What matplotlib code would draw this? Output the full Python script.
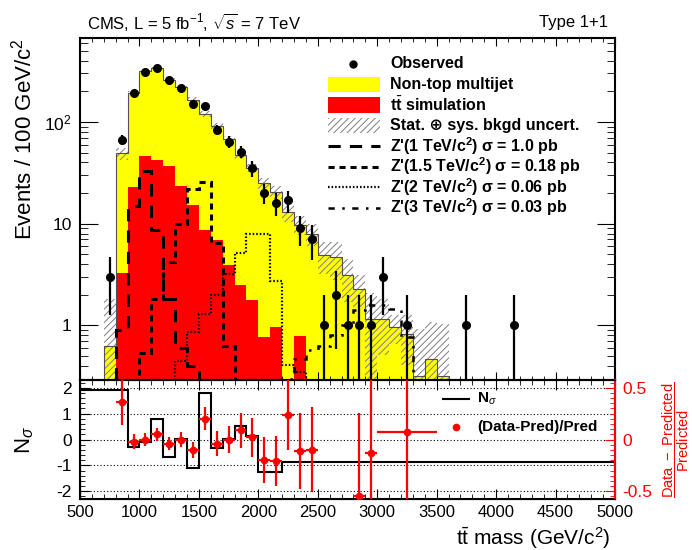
import numpy as np
import matplotlib
matplotlib.use('Agg')
import matplotlib.pyplot as plt
from matplotlib.patches import Rectangle
from matplotlib.ticker import MultipleLocator, FixedLocator, LogLocator, NullFormatter

plt.rcParams['font.family'] = ['Liberation Sans', 'DejaVu Sans']
plt.rcParams['mathtext.fontset'] = 'custom'
plt.rcParams['mathtext.rm'] = 'Liberation Sans'
plt.rcParams['mathtext.it'] = 'Liberation Sans:italic'
plt.rcParams['mathtext.bf'] = 'Liberation Sans:bold'
plt.rcParams['axes.unicode_minus'] = False
plt.rcParams['hatch.linewidth'] = 0.7

# 100 GeV bins from 700 to 3600 GeV
edges = np.arange(700, 3700, 100)

# total background (non-top multijet + ttbar)
total = [0.62, 49, 195, 318, 336, 261, 221, 166, 119, 91, 68, 47, 35.5, 25, 20.5,
         13, 9.8, 8, 4.9, 4.7, 3.1, 2.3, 1.16, 1.16, 0.96, 0.83, 0.32, 0.47, 0.32]
ttbar = [0, 3.3, 23, 46, 42.7, 36.7, 23.5, 15.4, 8.7, 6.95, 3.9, 2.47, 1.79, 0.77, 0.96,
         0.2, 0.78, 0, 0, 0, 0, 0, 0, 0, 0, 0, 0, 0, 0]
bkg_unc = [1.2, 7, 8, 10, 12, 10, 10, 9, 8, 6, 5, 4, 3.5, 3, 3,
           2.5, 2, 2, 1.7, 1.9, 1.4, 0.8, 0.9, 0.65, 0.3, 0.42, 0.6, 0.6, 0.7]

# Z' signal templates
zp1000 = [0, 0.89, 14.8, 33, 8.7, 1.8, 0.6, 0.4, 0.2, 0, 0, 0, 0, 0, 0,
          0, 0, 0, 0, 0, 0, 0, 0, 0, 0, 0, 0, 0, 0]
zp1500 = [0, 0, 0, 0.54, 1.8, 4.2, 10, 22, 25.7, 6.4, 0.63, 0.25, 0, 0, 0,
          0, 0, 0, 0, 0, 0, 0, 0, 0, 0, 0, 0, 0, 0]
zp2000 = [0, 0, 0, 0, 0, 0, 0.45, 0.86, 1.3, 1.97, 3.2, 5.1, 8, 8, 2.7,
          0.41, 0.35, 0.25, 0, 0, 0, 0, 0, 0, 0, 0, 0, 0, 0]
zp3000 = [0, 0, 0, 0, 0, 0, 0, 0, 0, 0, 0, 0, 0, 0, 0,
          0.3, 0.47, 0.57, 0.62, 0.8, 1.0, 1.4, 1.6, 1.6, 1.46, 0.77, 0.2, 0, 0]

# observed events
obs_mass = [750, 850, 950, 1050, 1150, 1250, 1350, 1450, 1550, 1650, 1750, 1850, 1950,
            2050, 2150, 2250, 2350, 2450, 2550, 2650, 2750, 2850, 2950, 3050, 3250, 3750, 4150]
obs_count = [3, 67, 193, 310, 336, 261, 218, 152, 143, 84, 64, 51, 35,
             20, 16, 17, 9, 7, 1, 2, 1, 1, 1, 3, 1, 1, 1]

# lower panel: N sigma
nsig_edges = [500, 900, 1000, 1100, 1200, 1300, 1400, 1500, 1600, 1700, 1800, 1900, 2000, 2200, 5000]
nsig = [1.9, -0.29, -0.09, 0.81, -0.67, 0.03, -1.12, 1.81, -0.32, 0.03, 0.51, 0.13, -1.27, -0.86]

# lower panel: (Data-Pred)/Pred
ratio_mass = [850, 950, 1050, 1150, 1250, 1350, 1450, 1550, 1650, 1750, 1850, 1950,
              2050, 2150, 2250, 2350, 2450, 2850, 2950, 3250]
ratio_val = [0.36, -0.02, 0.0, 0.05, -0.04, 0.0, -0.10, 0.20, -0.04, 0.0, 0.09, 0.02,
             -0.20, -0.21, 0.24, -0.11, -0.10, -0.55, -0.13, 0.07]
ratio_err = [0.22, 0.075, 0.06, 0.06, 0.065, 0.07, 0.08, 0.11, 0.12, 0.13, 0.17, 0.19,
             0.22, 0.24, 0.34, 0.37, 0.41, 0.81, 0.9, 0.9]
ratio_xerr = [50] * 19 + [250]

total = np.array(total)
bkg_unc = np.array(bkg_unc)
band_lo = np.clip(total - bkg_unc, 1e-3, None)
band_hi = total + bkg_unc

W, H = 692, 550
fig = plt.figure(figsize=(6.92, 5.5), dpi=100)
ax1 = fig.add_axes([80 / W, 1 - 380 / H, 535 / W, 342 / H])
ax2 = fig.add_axes([80 / W, 1 - 499 / H, 535 / W, 119 / H], sharex=ax1)

styles = {
    'z1': dict(color='black', lw=2.2, ls=(0, (4, 3))),
    'z15': dict(color='black', lw=2.2, ls=(0, (2, 1.6))),
    'z2': dict(color='black', lw=1.6, ls=(0, (0.7, 0.9))),
    'z3': dict(color='black', lw=1.8, ls=(0, (2.5, 3, 1, 3))),
}

# ---- upper panel
ax1.set_yscale('log')
ax1.stairs(total, edges, fill=True, color='#ffff00', lw=0, zorder=1)
ax1.stairs(ttbar, edges, fill=True, color='#ff0000', lw=0, zorder=2)
ax1.stairs(band_hi, edges, baseline=band_lo, fill=True, facecolor='none',
           edgecolor='#7f7f7f', hatch='/////', lw=0, zorder=3)
ax1.stairs(total, edges, color='#505050', lw=0.8, zorder=3)

ax1.stairs(zp1000, edges, zorder=4, **styles['z1'])
ax1.stairs(zp1500, edges, zorder=4, **styles['z15'])
ax1.stairs(zp2000, edges, zorder=4, **styles['z2'])
ax1.stairs(zp3000, edges, zorder=4, **styles['z3'])

ax1.errorbar(obs_mass, obs_count, yerr=np.sqrt(obs_count), fmt='o', color='black',
             ms=5.5, elinewidth=1.6, capsize=0, zorder=5)

ax1.set_xlim(500, 5000)
ax1.set_ylim(0.29, 670)
ax1.yaxis.set_major_locator(FixedLocator([1, 10, 100]))
ax1.set_yticklabels(['1', '10', '10$^2$'])
ax1.yaxis.set_minor_locator(LogLocator(base=10, subs=np.arange(2, 10)))
ax1.yaxis.set_minor_formatter(NullFormatter())
ax1.xaxis.set_major_locator(MultipleLocator(500))
ax1.xaxis.set_minor_locator(MultipleLocator(100))
ax1.tick_params(axis='x', which='both', labelbottom=False, direction='in', top=True, bottom=True)
ax1.tick_params(axis='x', which='major', length=6)
ax1.tick_params(axis='x', which='minor', length=3)
ax1.tick_params(axis='y', which='both', direction='in', left=True, right=True, labelsize=12.5, pad=6)
ax1.tick_params(axis='y', which='major', length=13)
ax1.tick_params(axis='y', which='minor', length=6)
ax1.set_ylabel('Events / 100 GeV/c$^2$', fontsize=16, loc='top')
ax1.yaxis.set_label_coords(-0.082, 1.0)
for s in ax1.spines.values():
    s.set_linewidth(1.5)

# legend, one row every ~20.4 px
def ax1_pos(x, y):
    return (x - 80) / 535, (380 - y) / 342

leg_rows = [64, 84.5, 105, 125.5, 146, 166.5, 187, 207.5]
leg_labels = ['Observed', 'Non-top multijet', r't$\bar{\mathbf{t}}$ simulation',
              'Stat. \u2295 sys. bkgd uncert.',
              "Z'(1 TeV/c$^{\\mathbf{2}}$) \u03c3 = 1.0 pb",
              "Z'(1.5 TeV/c$^{\\mathbf{2}}$) \u03c3 = 0.18 pb",
              "Z'(2 TeV/c$^{\\mathbf{2}}$) \u03c3 = 0.06 pb",
              "Z'(3 TeV/c$^{\\mathbf{2}}$) \u03c3 = 0.03 pb"]
x0, _ = ax1_pos(328, 0)
x1, _ = ax1_pos(380, 0)
xt, _ = ax1_pos(390, 0)
bh = 15 / 342
for i, (row, lab) in enumerate(zip(leg_rows, leg_labels)):
    _, ya = ax1_pos(0, row)
    if i == 0:
        ax1.plot([ax1_pos(353, 0)[0]], [ya], 'o', color='black', ms=5, transform=ax1.transAxes, clip_on=False)
    elif i == 1:
        ax1.add_patch(Rectangle((x0, ya - bh / 2), x1 - x0, bh, facecolor='#ffff00', lw=0, transform=ax1.transAxes))
    elif i == 2:
        ax1.add_patch(Rectangle((x0, ya - bh / 2), x1 - x0, bh, facecolor='#ff0000', lw=0, transform=ax1.transAxes))
    elif i == 3:
        ax1.add_patch(Rectangle((x0, ya - bh / 2), x1 - x0, bh, facecolor='white', edgecolor='#7f7f7f',
                                hatch='/////', lw=0, transform=ax1.transAxes))
    else:
        key = ['z1', 'z15', 'z2', 'z3'][i - 4]
        ax1.plot([x0, x1], [ya, ya], transform=ax1.transAxes, **styles[key])
    ax1.text(xt, ya, lab, transform=ax1.transAxes, va='center', ha='left', fontsize=11.5, fontweight='bold')

fig.text(87 / W, 1 - 22 / H, 'CMS, L = 5 fb$^{-1}$, $\\sqrt{s}$ = 7 TeV', fontsize=12, va='center')
fig.text(608 / W, 1 - 22 / H, 'Type 1+1', fontsize=12, va='center', ha='right')

# ---- lower panel
for yv in [-2, -1, 0, 1, 2]:
    ax2.axhline(yv, color='black', lw=0.8, ls=(0, (1, 2)), zorder=0)
ax2.stairs(nsig, nsig_edges, color='black', lw=1.5, baseline=None, zorder=3)
ax2.set_ylim(-2.3, 2.3)
ax2.yaxis.set_major_locator(MultipleLocator(1))
ax2.yaxis.set_minor_locator(MultipleLocator(0.2))
ax2.tick_params(axis='y', which='both', direction='in', labelsize=12.5, pad=6)
ax2.tick_params(axis='y', which='major', length=7)
ax2.tick_params(axis='y', which='minor', length=3.5)
ax2.tick_params(axis='x', which='both', direction='in', top=True, labelsize=12, pad=4)
ax2.tick_params(axis='x', which='major', length=7)
ax2.tick_params(axis='x', which='minor', length=3.5)
ax2.set_ylabel('N$_{\\sigma}$', fontsize=16)
ax2.yaxis.set_label_coords(-0.082, 0.5)
ax2.set_xlabel(r't$\bar{\rm t}$ mass (GeV/c$^2$)', fontsize=15, loc='right')
ax2.xaxis.set_label_coords(0.991, -0.215)
for s in ax2.spines.values():
    s.set_linewidth(1.5)

ax2r = ax2.twinx()
ax2r.errorbar(ratio_mass, ratio_val, xerr=ratio_xerr, yerr=ratio_err, fmt='o', color='red',
              ms=4.5, elinewidth=1.6, capsize=0, zorder=4)
ax2r.set_ylim(-0.575, 0.575)
ax2r.yaxis.set_major_locator(FixedLocator([-0.5, 0, 0.5]))
ax2r.set_yticklabels(['-0.5', '0', '0.5'])
ax2r.yaxis.set_minor_locator(MultipleLocator(0.05))
ax2r.tick_params(axis='y', which='both', direction='in', colors='red', labelsize=12.5, pad=5)
ax2r.tick_params(axis='y', which='major', length=7)
ax2r.tick_params(axis='y', which='minor', length=3.5)
ax2r.spines['right'].set_color('red')
ax2r.spines['right'].set_linewidth(1.5)
ax2r.set_ylabel(r'$\dfrac{\mathrm{Data\ -\ Predicted}}{\mathrm{Predicted}}$', color='red', fontsize=10.5)
ax2r.yaxis.set_label_coords((660 - 80) / 535, 0.5)

# lower legend
def ax2_pos(x, y):
    return (x - 80) / 535, (499 - y) / 119

la, ya = ax2_pos(443, 399)
lb, _ = ax2_pos(469, 399)
ax2r.plot([la, lb], [ya, ya], color='black', lw=1.5, transform=ax2.transAxes)
ax2r.text(ax2_pos(477, 0)[0], ya, 'N$_{\\sigma}$', transform=ax2.transAxes, va='center',
          fontsize=11, fontweight='bold')
dx, dy = ax2_pos(456, 427)
ax2r.plot([dx], [dy], 'o', color='red', ms=4.5, transform=ax2.transAxes)
ax2r.text(ax2_pos(477, 0)[0], dy, '(Data-Pred)/Pred', transform=ax2.transAxes, va='center',
          fontsize=11, fontweight='bold')

fig.savefig('out.png', dpi=100)
